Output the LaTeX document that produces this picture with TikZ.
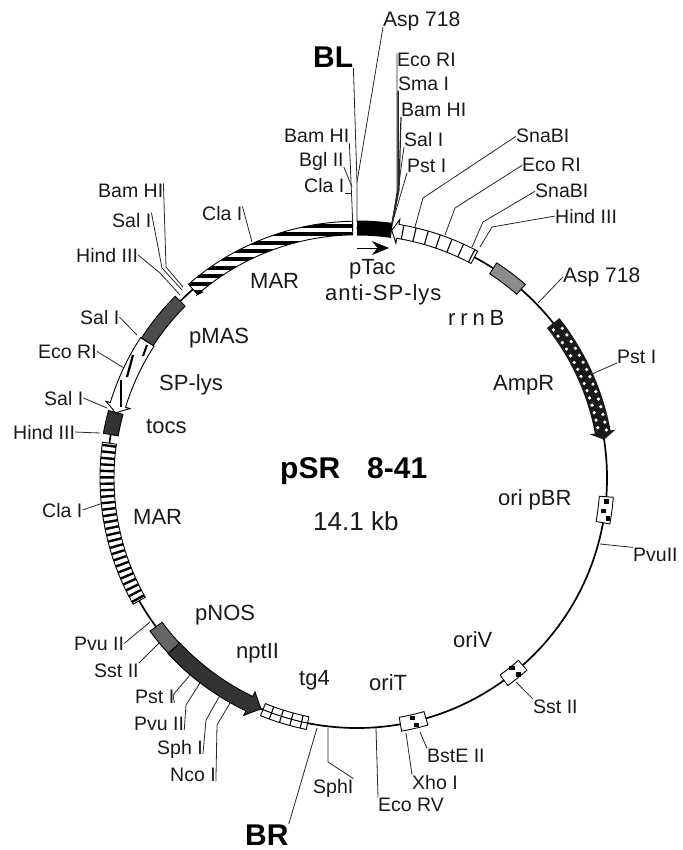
\documentclass[tikz,border=0pt]{standalone}
\usepackage{fontspec}
\setmainfont{Liberation Sans}
\usetikzlibrary{arrows.meta}

% ring sections, angles in degrees, half width in pt
\newcommand{\bandpath}[3]{({#1}:{250-#3}) arc[start angle=#1,end angle=#2,radius=250-#3]
  -- ({#2}:{250+#3}) arc[start angle=#2,end angle=#1,radius=250+#3] -- cycle}
\newcommand{\arrowpath}[5]{({#1}:{250-#4}) arc[start angle=#1,end angle=#2,radius=250-#4]
  -- ({#2}:{250-#5}) -- ({#3}:250) -- ({#2}:{250+#5}) -- ({#2}:{250+#4})
  arc[start angle=#2,end angle=#1,radius=250+#4] -- cycle}

\tikzset{
  lab/.style={anchor=base west,inner sep=0pt,text=black!90,font=\fontsize{19.5}{22}\selectfont},
  inlab/.style={lab,font=\fontsize{22}{24}\selectfont},
  asplab/.style={lab,font=\fontsize{21}{24}\selectfont},
  endlab/.style={lab,text=black,font=\fontsize{30}{32}\selectfont\bfseries},
  site/.style={line width=0.8pt,black!85},
  part/.style={draw=black,line width=0.9pt},
}

\begin{document}
\begin{tikzpicture}[x=1pt,y=-1pt]
    \useasboundingbox (0,0) rectangle (682,850);

    % the ring and its parts
    \begin{scope}[shift={(357,478)},x=1pt,y=1pt]
      \draw[line width=1.7pt] (0,0) circle (250);
      \fill[white] \bandpath{90.1}{90.9}{4};

      % MAR, top
      \begin{scope}
        \clip \bandpath{91}{131}{6.8};
        \fill[white] \bandpath{91}{131}{6.8};
        \foreach \y in {252,243.7,...,185}
          \draw[line width=4pt] (-185,\y) -- (0,\y);
      \end{scope}
      \draw[part] \bandpath{91}{131}{6.8};
      \fill ({131.5}:243) -- ({129.5}:241) -- ({130}:246) -- cycle;

      % pTac and rrnB
      \fill[black] \bandpath{90}{82}{7.5};
      \draw[part,fill=white] \arrowpath{62}{80.6}{82}{7}{12};
      \foreach \a in {79.5,76.7,...,62.5}
        \draw[line width=1.1pt] ({\a}:243) -- ({\a}:257);

      \draw[part,fill=black!45] \bandpath{57}{49}{6.5};

      % AmpR
      \fill[black!90] \arrowpath{38.3}{10.6}{8.8}{8}{13};
      \foreach \a in {37,35.2,...,10.5} {
        \fill[white] ({\a}:246) circle (1.8);
        \fill[white] ({\a-0.9}:254) circle (1.8);
      }

      % the three small boxes
      \draw[part,fill=white] \bandpath{-4.3}{-10.3}{7};
      \draw[part,fill=white] \bandpath{-48.5}{-54}{6.5};
      \draw[part,fill=white] \bandpath{-74}{-80}{7};

      % tg4
      \draw[part,fill=white] \bandpath{-112.1}{-101.4}{6.5};
      \foreach \a in {-110,-107.6,...,-102}
        \draw[line width=1.1pt] ({\a}:243.5) -- ({\a}:256.5);
      \draw[line width=1pt] ({-112.1}:250) arc[start angle=-112.1,end angle=-101.4,radius=250];

      % nptII and pNOS
      \draw[part,fill=black!80] \arrowpath{-137.1}{-115.5}{-112.6}{8}{13};
      \draw[part,fill=black!60] \bandpath{-143.5}{-137.1}{7.5};

      % MAR, left
      \begin{scope}
        \clip \bandpath{172}{209.4}{7};
        \fill[white] \bandpath{172}{209.4}{7};
        \foreach \a in {172.6,174.05,...,209.4}
          \draw[line width=2.4pt] ({\a}:240) -- ({\a}:260);
      \end{scope}
      \draw[part] \bandpath{172}{209.4}{7};

      \draw[part,fill=black!80] \bandpath{164.8}{170}{7.5};
      \draw[part,fill=white] \arrowpath{147}{163}{164.9}{8}{12.5};
      \draw[part,fill=black!70] \bandpath{135}{147}{7};
    \end{scope}

    % stripes of SP-lys
    \draw[line width=2pt] (147,345) -- (143,356);
    \draw[line width=2.2pt] (133,355) -- (127,377);
    \draw[line width=2.2pt] (121,380) -- (121,407);

    % dots in the small boxes
    \fill (604,499) rectangle ++(5,5);
    \fill (601,509) rectangle ++(5,4);
    \fill (606,516) rectangle ++(4,5);
    \fill (509,666) rectangle ++(6,4);
    \fill (516,672) rectangle ++(5,5);
    \fill (410,716) rectangle ++(5,4);
    \fill (414,723) rectangle ++(5,4);

    % arrow under pTac
    \coordinate (ptacA) at (357,248);
    \coordinate (ptacB) at (389,248);
    \draw[line width=0.8pt,-{Stealth[length=17pt,width=14pt]}] (ptacA) -- (ptacB);

    % names inside the ring
    \node[inlab] (marA) at (250,288) {MAR};
    \node[inlab] (ptac) at (349,274) {pTac};
    \node[inlab] (anti) at (325,300) {\addfontfeature{LetterSpace=4.5}anti-SP-lys};
    \node[inlab] (rrnb) at (448,325) {\addfontfeature{LetterSpace=22}rrnB};
    \node[inlab] (ampr) at (493,390) {AmpR};
    \node[inlab] (pmas) at (189,343) {pMAS};
    \node[inlab] (splys) at (159,390) {SP-lys};
    \node[inlab] (tocs) at (146,433) {tocs};
    \node[inlab] (marB) at (133,524) {MAR};
    \node[inlab] (pnos) at (195,620) {pNOS};
    \node[inlab] (nptii) at (236,658) {nptII};
    \node[inlab] (tgfour) at (299,685) {tg4};
    \node[inlab] (orit) at (369,690) {oriT};
    \node[inlab] (oriv) at (453,647) {oriV};
    \node[inlab] (oripbr) at (498,505) {ori pBR};
    \node[lab,text=black,font=\fontsize{30}{32}\selectfont\bfseries] (title) at (280,478) {pSR\hspace{27pt}8-41};
    \node[lab,font=\fontsize{26}{28}\selectfont] (size) at (313,530) {14.1 kb};

    % sites, top
    \node[endlab] (bl) at (313,68) {BL};
    \node[asplab] (asp1) at (383,27) {Asp\ 718};
    \node[lab] (eco1) at (397,67) {Eco RI};
    \node[lab] (sma) at (398,91) {Sma I};
    \node[lab] (bam1) at (401,117) {Bam HI};
    \node[lab] (sal1) at (404,147) {Sal I};
    \node[lab] (pst1) at (407,173) {Pst I};
    \node[lab] (bam2) at (284,143) {Bam HI};
    \node[lab] (bgl) at (299,167) {Bgl II};
    \node[lab] (cla1) at (304,193) {Cla I};
    \node[lab] (sna1) at (516,143) {SnaBI};
    \node[lab] (eco2) at (522,172) {Eco RI};
    \node[lab] (sna2) at (535,198) {SnaBI};
    \node[lab] (hind1) at (555,223) {Hind III};
    \coordinate (sbl) at (357,182);
    \coordinate (sasp1) at (357,222);
    \coordinate (sbam2) at (352.7,222);
    \coordinate (stag) at (352,187);
    \coordinate (scla1) at (352,193);
    \coordinate (seco) at (392,224);
    \coordinate (ssna1) at (415,227);
    \coordinate (seco2) at (445,235);
    \coordinate (ssna2) at (472,247);
    \coordinate (shind1) at (480,247);
    \draw[site] (bl.base east) -- (sbl);
    \draw[site] (asp1.base west) -- (sbl) -- (sasp1);
    \draw[site] (bam2.south east) -- (sbam2);
    \draw[site] (bgl.base east) -- (stag);
    \draw[site] (cla1.base east) -- (scla1);
    \draw[site] (eco1.north west) -- (397,192) -- (seco);
    \draw[site,line width=1.5pt] (sma.base west) -- (398,192) -- (seco);
    \draw[site,line width=1.2pt] (bam1.base west) -- (399,190) -- (seco);
    \draw[site] (sal1.base west) -- (398,190) -- (seco);
    \draw[site] (pst1.base west) -- (seco);
    \draw[site] (sna1.west) -- (423,198) -- (ssna1);
    \draw[site] (eco2.west) -- (455,208) -- (seco2);
    \draw[site] (sna2.west) -- (483,222) -- (ssna2);
    \draw[site] (hind1.west) -- (492,227) -- (shind1);

    % sites, right
    \node[asplab] (asp2) at (563,282) {Asp\ 718};
    \node[lab] (pst2) at (617,363) {Pst I};
    \node[lab] (pvu1) at (633,561) {PvuII};
    \node[lab] (sst1) at (533,713) {Sst II};
    \node[lab] (bste) at (427,762) {BstE II};
    \node[lab] (xho) at (412,789) {Xho I};
    \node[lab] (ecov) at (378,811) {Eco RV};
    \coordinate (sasp2) at (538,303);
    \coordinate (spst2) at (592,374);
    \coordinate (spvu1) at (600,544);
    \coordinate (ssst1) at (516,682);
    \coordinate (sbste) at (420,732);
    \coordinate (sxho) at (406,733);
    \coordinate (secov) at (376,728);
    \draw[site] (asp2.west) -- (sasp2);
    \draw[site] (pst2.base west) -- (spst2);
    \draw[site] (pvu1.north west) -- (spvu1);
    \draw[site] (sst1.north west) -- (ssst1);
    \draw[site] (bste.north west) -- (sbste);
    \draw[site] (xho.north west) -- (sxho);
    \draw[site] (ecov.north west) -- (secov);

    % sites, bottom left
    \node[endlab] (br) at (245,845) {BR};
    \node[lab] (sph1) at (313,793) {SphI};
    \node[lab] (nco) at (170,781) {Nco I};
    \node[lab] (sph2) at (157,754) {Sph I};
    \node[lab] (pvu2) at (134,730) {Pvu II};
    \node[lab] (pst3) at (135,703) {Pst I};
    \node[lab] (sst2) at (94,677) {Sst II};
    \node[lab] (pvu3) at (74,650) {Pvu II};
    \node[lab] (cla2) at (42,517) {Cla I};
    \coordinate (sbr) at (317,728);
    \coordinate (ssph1) at (328,728);
    \coordinate (snco) at (230,703);
    \coordinate (ssph2) at (219,697);
    \coordinate (spvu2) at (200,683);
    \coordinate (spst3) at (190,675);
    \coordinate (ssst2) at (160,642);
    \coordinate (spvu3) at (150,622);
    \coordinate (scla2) at (103,503);
    \draw[site] (br.north east) -- (sbr);
    \draw[site] (sph1.north east) -- (328,762) -- (ssph1);
    \draw[site] (nco.base east) -- (217,725) -- (snco);
    \draw[site] (sph2.base east) -- (206,720) -- (ssph2);
    \draw[site] (pvu2.base east) -- (186,705) -- (spvu2);
    \draw[site] (pst3.base east) -- (173,695) -- (spst3);
    \draw[site] (sst2.north east) -- (ssst2);
    \draw[site] (pvu3.east) -- (spvu3);
    \draw[site] (cla2.east) -- (scla2);

    % sites, upper left
    \node[lab] (cla3) at (202,221) {Cla I};
    \node[lab] (bam3) at (98,197) {Bam HI};
    \node[lab] (sal2) at (112,227) {Sal I};
    \node[lab] (hind2) at (76,262) {Hind III};
    \node[lab] (sal3) at (80,324) {Sal I};
    \node[lab] (eco3) at (38,358) {Eco RI};
    \node[lab] (sal4) at (44,405) {Sal I};
    \node[lab] (hind3) at (13,439) {Hind III};
    \coordinate (scla3) at (252,242);
    \coordinate (sbam3) at (183,287);
    \coordinate (ssal2) at (182,290);
    \coordinate (shind2) at (180,295);
    \coordinate (ssal3) at (137,335);
    \coordinate (seco3) at (124,368);
    \coordinate (ssal4) at (107,408);
    \coordinate (shind3) at (100,433);
    \draw[site] (cla3.north east) -- (scla3);
    \draw[site] (bam3.north east) -- (166,267) -- (sbam3);
    \draw[site] (sal2.north east) -- (162,268) -- (ssal2);
    \draw[site] (hind2.east) -- (160,273) -- (shind2);
    \draw[site] (sal3.east) -- (ssal3);
    \draw[site] (eco3.east) -- (seco3);
    \draw[site] (sal4.east) -- (ssal4);
    \draw[site] (hind3.east) -- (shind3);
\end{tikzpicture}
\end{document}
